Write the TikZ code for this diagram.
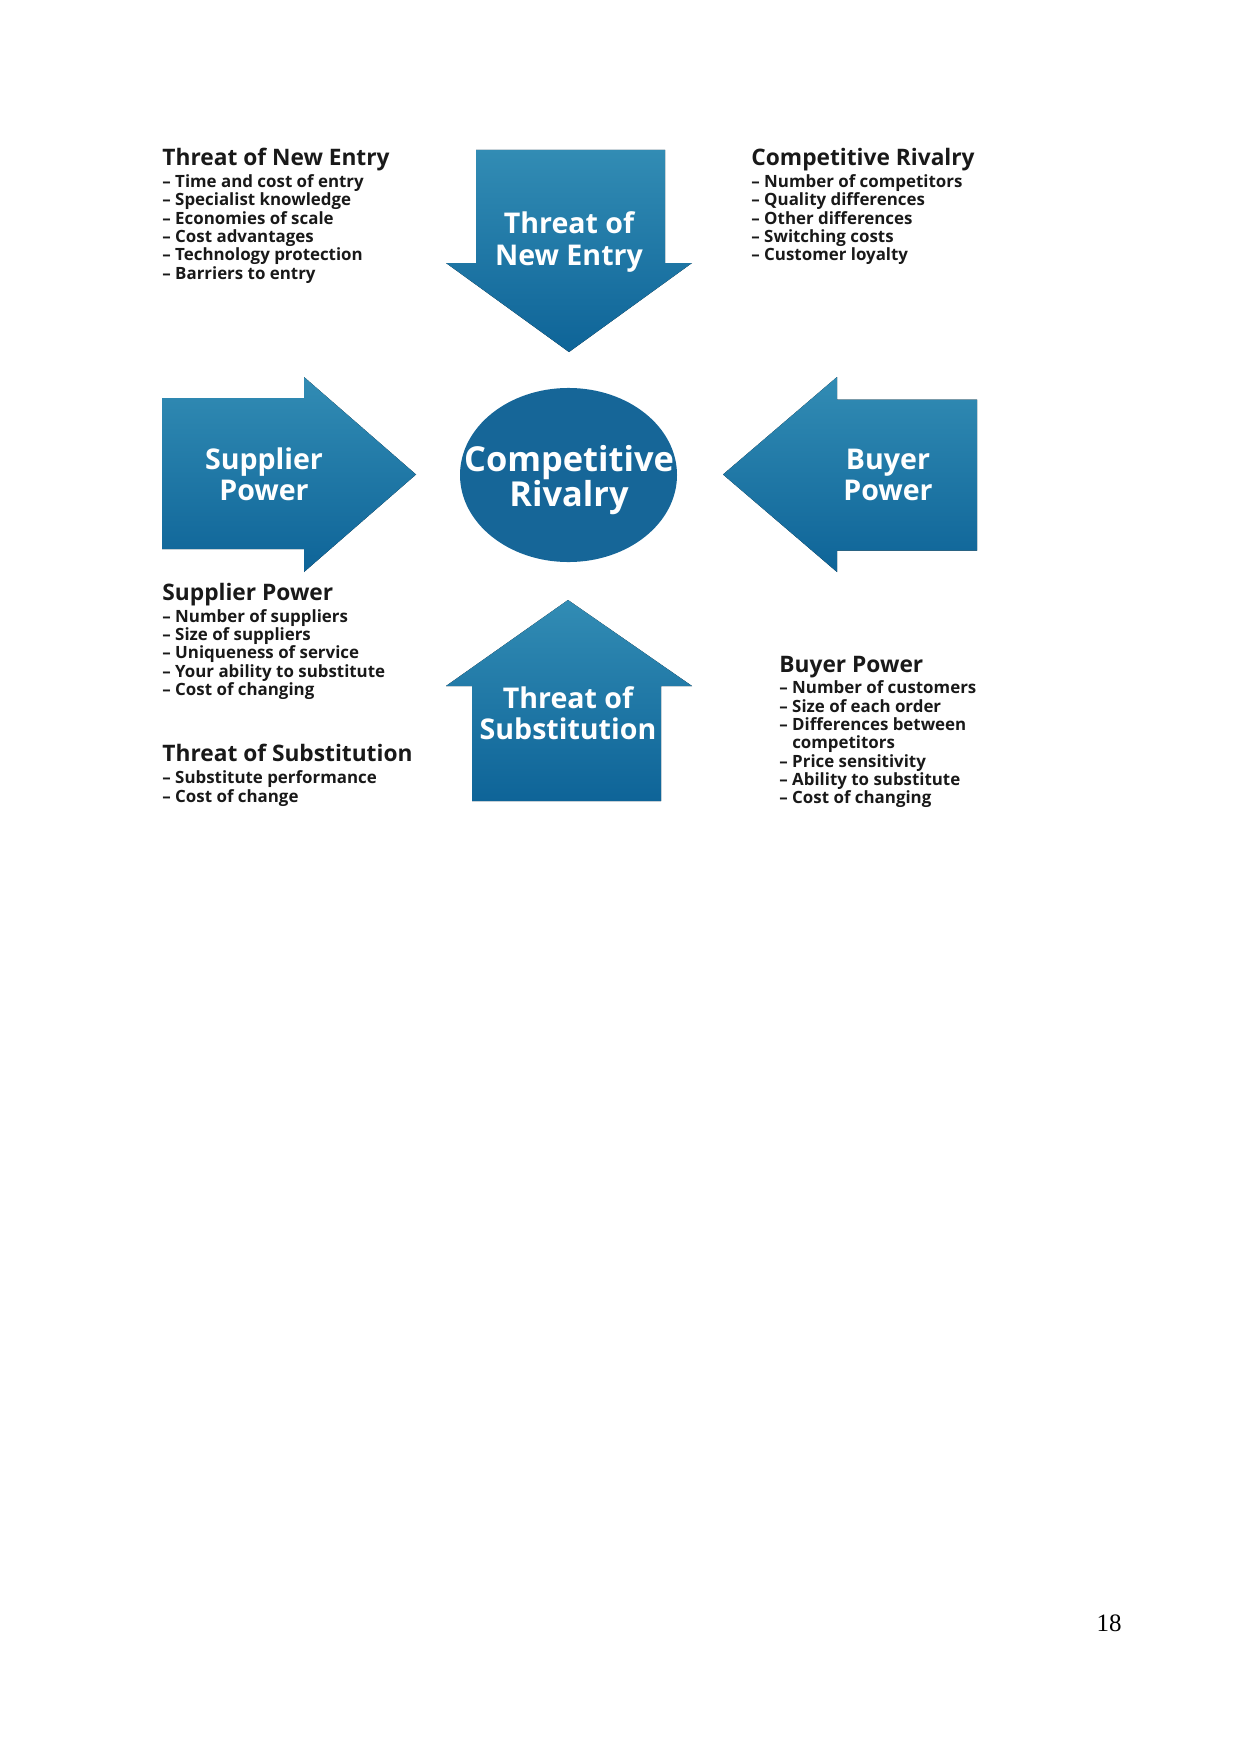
\documentclass[tikz,border=0pt]{standalone}
\usepackage{fontspec}
\setmainfont{Open Sans}
\newfontfamily\pagefont{Liberation Serif}
\usetikzlibrary{positioning,shapes.geometric}
\definecolor{arrowtop}{RGB}{50,140,180}
\definecolor{arrowbottom}{RGB}{14,100,152}
\definecolor{circleblue}{RGB}{22,102,152}
\definecolor{textdark}{RGB}{25,25,25}

\begin{document}
\begin{tikzpicture}[
    x=0.4797pt, y=-0.4797pt,
    force/.style={top color=arrowtop, bottom color=arrowbottom, draw=none},
    forcelabel/.style={text=white, font=\bfseries\fontsize{13.7}{15}\selectfont, align=center, inner sep=0pt},
    heading/.style={text=textdark, font=\bfseries\fontsize{10.9}{12}\selectfont, inner sep=0pt, anchor=base west},
    items/.style={text=textdark, font=\bfseries\fontsize{8.1}{8.8}\selectfont, align=left, inner sep=0pt}
]
    \useasboundingbox (0,0) rectangle (1241,1754);

    % Force arrows
    \fill[force] (476,150) -- (665,150) -- (665,263) -- (692,263) -- (569,352) -- (446,263) -- (476,263) -- cycle;
    \fill[force] (162,398) -- (304,398) -- (304,377) -- (416,474.5) -- (304,572) -- (304,549) -- (162,549) -- cycle;
    \fill[force] (977,399.5) -- (837,399.5) -- (837,377) -- (723,474.5) -- (837,572) -- (837,550.5) -- (977,550.5) -- cycle;
    \fill[force] (568,600) -- (692,686) -- (661,686) -- (661,801) -- (472,801) -- (472,686) -- (446,686) -- cycle;

    \node[ellipse, fill=circleblue, inner sep=0pt, minimum width=104.1pt, minimum height=83.5pt] (rivalry) at (568.5,475) {};

    % Labels in the shapes
    \node[forcelabel] (entry) at (569,242) {Threat of\\New Entry};
    \node[forcelabel] (supplier) at (264,474) {Supplier\\Power};
    \node[forcelabel] (buyer) at (888,475) {Buyer\\Power};
    \node[forcelabel] (subst) at (568,713) {Threat of\\Substitution};
    \node[forcelabel, font=\bfseries\fontsize{16.5}{17.2}\selectfont] (rivalrytext) at (569,480) {Competitive\\Rivalry};

    % Factor lists
    \node[heading] (entrytitle) at (162,165.6) {Threat of New Entry};
    \node[items, below=4.1pt of entrytitle.base west, anchor=north west] (entrylist)
        {– Time and cost of entry\\– Specialist knowledge\\– Economies of scale\\– Cost advantages\\– Technology protection\\– Barriers to entry};

    \node[heading] (rivalrytitle) at (751,165.6) {Competitive Rivalry};
    \node[items, below=4.1pt of rivalrytitle.base west, anchor=north west] (rivalrylist)
        {– Number of competitors\\– Quality differences\\– Other differences\\– Switching costs\\– Customer loyalty};

    \node[heading] (suppliertitle) at (162,600.6) {Supplier Power};
    \node[items, below=4pt of suppliertitle.base west, anchor=north west] (supplierlist)
        {– Number of suppliers\\– Size of suppliers\\– Uniqueness of service\\– Your ability to substitute\\– Cost of changing};

    \node[heading] (substtitle) at (162,761.8) {Threat of Substitution};
    \node[items, below=4.2pt of substtitle.base west, anchor=north west] (substlist)
        {– Substitute performance\\– Cost of change};

    \node[heading] (buyertitle) at (779,672.6) {Buyer Power};
    \node[items, below=3.8pt of buyertitle.base west, anchor=north west] (buyerlist)
        {– Number of customers\\– Size of each order\\– Differences between\\\phantom{– }competitors\\– Price sensitivity\\– Ability to substitute\\– Cost of changing};

    \node[font=\pagefont\fontsize{12}{14}\selectfont, inner sep=0pt] (pagenum) at (1109,1623) {18};
\end{tikzpicture}
\end{document}
